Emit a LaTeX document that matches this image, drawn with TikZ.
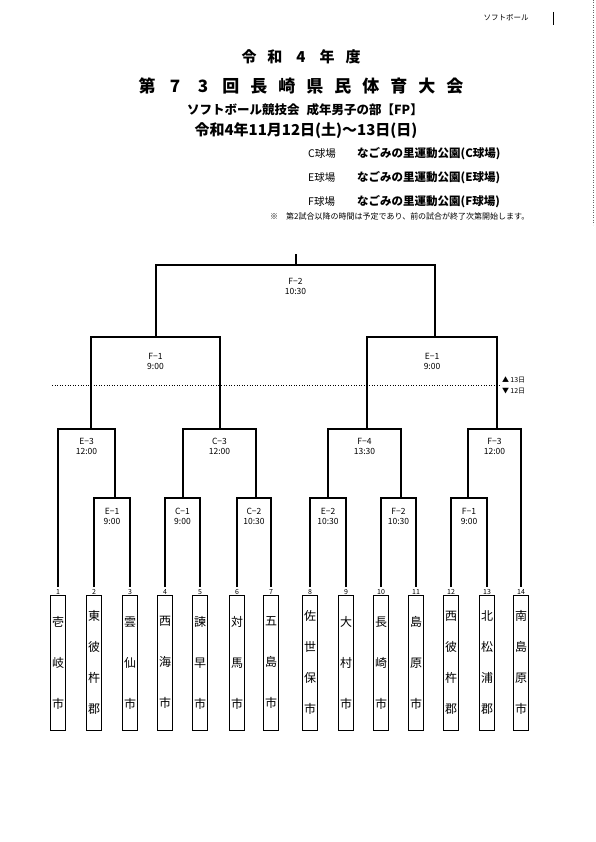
\documentclass[tikz,border=0pt]{standalone}
\usepackage{fontspec}
\setmainfont{Noto Sans CJK JP}
\usetikzlibrary{positioning,calc}

\newcommand{\kuhaku}{\hspace{11pt}}

\tikzset{
  match/.style={line width=1.4pt, line join=miter},
  gamelabel/.style={font=\fontsize{8.5}{10}\selectfont, align=center, inner sep=0pt},
  teamno/.style={font=\fontsize{7}{7}\selectfont, inner sep=0.3pt},
  namebox/.style={draw, line width=0.6pt, minimum width=15pt, minimum height=135pt, inner sep=0pt, align=center},
  namethree/.style={namebox, font=\fontsize{12}{41}\selectfont},
  namefour/.style={namebox, font=\fontsize{12}{31}\selectfont},
  court/.style={font=\fontsize{10.5}{12}\selectfont, anchor=west, inner sep=0pt},
  venue/.style={font=\fontsize{11.5}{13}\selectfont\bfseries, anchor=west, inner sep=0pt},
  daylabel/.style={font=\fontsize{7}{8}\selectfont, anchor=west, inner sep=0pt},
}

\begin{document}
\begin{tikzpicture}[x=1pt, y=-1pt]
\useasboundingbox (0,0) rectangle (595,842);

% header
\node[font=\fontsize{7.5}{9}\selectfont] (corner) at (506,18) {ソフトボール};
\draw[line width=0.8pt] (553,12) -- (553,25);
\draw[dotted, line width=0.5pt, black!60] (593,0) -- (593,225);

\node[font=\fontsize{15}{18}\selectfont\bfseries] (nendo) at (301,57)
  {令\kuhaku 和\kuhaku\makebox[15pt]{4}\kuhaku 年\kuhaku 度};
\node[font=\fontsize{17}{20}\selectfont\bfseries] (taikai) at (301,86)
  {第\kuhaku\makebox[17pt]{7}\kuhaku\makebox[17pt]{3}\kuhaku 回\kuhaku 長\kuhaku 崎\kuhaku 県\kuhaku 民\kuhaku 体\kuhaku 育\kuhaku 大\kuhaku 会};
\node[font=\fontsize{12.5}{15}\selectfont\bfseries] (bumon) at (305,110)
  {ソフトボール競技会\hspace{7pt}成年男子の部【FP】};
\node[font=\fontsize{15}{17}\selectfont\bfseries] (nittei) at (306,131)
  {令和4年11月12日(土)～13日(日)};

\node[court] (cjo) at (308,154) {C球場};
\node[venue] (cpark) at (357,154) {なごみの里運動公園(C球場)};
\node[court] (ejo) at (308,178) {E球場};
\node[venue] (epark) at (357,178) {なごみの里運動公園(E球場)};
\node[court] (fjo) at (308,202) {F球場};
\node[venue] (fpark) at (357,202) {なごみの里運動公園(F球場)};
\node[font=\fontsize{8}{10}\selectfont, anchor=west, inner sep=0pt] (chui) at (270,216)
  {※\hspace{8pt}第2試合以降の時間は予定であり、前の試合が終了次第開始します。};

% teams
\foreach \i/\x in {1/58,2/94,3/130,4/165,5/200,6/237,7/271,8/310,9/346,10/381,11/416,12/451,13/487,14/521}{
  \coordinate (t\i) at (\x,587);
  \node[teamno] (n\i) at (\x,592) {\i};
}
\foreach \i/\nm/\st in {1/{壱\\岐\\市}/namethree, 2/{東\\彼\\杵\\郡}/namefour,
    3/{雲\\仙\\市}/namethree, 4/{西\\海\\市}/namethree, 5/{諫\\早\\市}/namethree,
    6/{対\\馬\\市}/namethree, 7/{五\\島\\市}/namethree, 8/{佐\\世\\保\\市}/namefour,
    9/{大\\村\\市}/namethree, 10/{長\\崎\\市}/namethree, 11/{島\\原\\市}/namethree,
    12/{西\\彼\\杵\\郡}/namefour, 13/{北\\松\\浦\\郡}/namefour, 14/{南\\島\\原\\市}/namefour}
  \node[\st, below=0pt of n\i] (b\i) {\nm};

% match points
\coordinate (r1e1) at (115,498);
\coordinate (r1c1) at (183,498);
\coordinate (r1c2) at (256,498);
\coordinate (r1e2) at (328,498);
\coordinate (r1f2) at (401,498);
\coordinate (r1f1) at (468,498);
\coordinate (r2e3) at (91,429);
\coordinate (r2c3) at (220,429);
\coordinate (r2f4) at (367,429);
\coordinate (r2f3) at (497,429);
\coordinate (sff1) at (156,337);
\coordinate (sfe1) at (435,337);
\coordinate (fin) at (296,265);
\coordinate (top) at (296,254);

% bracket
\draw[match] (t2) |- (r1e1) -| (t3);
\draw[match] (t4) |- (r1c1) -| (t5);
\draw[match] (t6) |- (r1c2) -| (t7);
\draw[match] (t8) |- (r1e2) -| (t9);
\draw[match] (t10) |- (r1f2) -| (t11);
\draw[match] (t12) |- (r1f1) -| (t13);
\draw[match] (t1) |- (r2e3) -| (r1e1);
\draw[match] (r1c1) |- (r2c3) -| (r1c2);
\draw[match] (r1e2) |- (r2f4) -| (r1f2);
\draw[match] (r1f1) |- (r2f3) -| (t14);
\draw[match] (r2e3) |- (sff1) -| (r2c3);
\draw[match] (r2f4) |- (sfe1) -| (r2f3);
\draw[match] (sff1) |- (fin) -| (sfe1);
\draw[match] (fin) -- (top);

% game labels
\node[gamelabel, below=10pt] (lr1e1) at ($(t2 |- r1e1)!.5!(t3 |- r1e1)$) {E−1\\9:00};
\node[gamelabel, below=10pt] (lr1c1) at ($(t4 |- r1c1)!.5!(t5 |- r1c1)$) {C−1\\9:00};
\node[gamelabel, below=10pt] (lr1c2) at ($(t6 |- r1c2)!.5!(t7 |- r1c2)$) {C−2\\10:30};
\node[gamelabel, below=10pt] (lr1e2) at ($(t8 |- r1e2)!.5!(t9 |- r1e2)$) {E−2\\10:30};
\node[gamelabel, below=10pt] (lr1f2) at ($(t10 |- r1f2)!.5!(t11 |- r1f2)$) {F−2\\10:30};
\node[gamelabel, below=10pt] (lr1f1) at ($(t12 |- r1f1)!.5!(t13 |- r1f1)$) {F−1\\9:00};
\node[gamelabel, below=9pt] (lr2e3) at ($(t1 |- r2e3)!.5!(r1e1 |- r2e3)$) {E−3\\12:00};
\node[gamelabel, below=9pt] (lr2c3) at ($(r1c1 |- r2c3)!.5!(r1c2 |- r2c3)$) {C−3\\12:00};
\node[gamelabel, below=9pt] (lr2f4) at ($(r1e2 |- r2f4)!.5!(r1f2 |- r2f4)$) {F−4\\13:30};
\node[gamelabel, below=9pt] (lr2f3) at ($(r1f1 |- r2f3)!.5!(t14 |- r2f3)$) {F−3\\12:00};
\node[gamelabel, below=16pt] (lsff1) at ($(r2e3 |- sff1)!.5!(r2c3 |- sff1)$) {F−1\\9:00};
\node[gamelabel, below=16pt] (lsfe1) at ($(r2f4 |- sfe1)!.5!(r2f3 |- sfe1)$) {E−1\\9:00};
\node[gamelabel, below=13pt] (lfin) at ($(sff1 |- fin)!.5!(sfe1 |- fin)$) {F−2\\10:30};

% day divider
\coordinate (dayl) at (52,385);
\coordinate (dayr) at (500,385);
\draw[dotted, line width=0.6pt] (dayl) -- (dayr);
\node[daylabel] (d13) at (502,380) {▲\,13日};
\node[daylabel] (d12) at (502,391) {▼\,12日};
\end{tikzpicture}
\end{document}
